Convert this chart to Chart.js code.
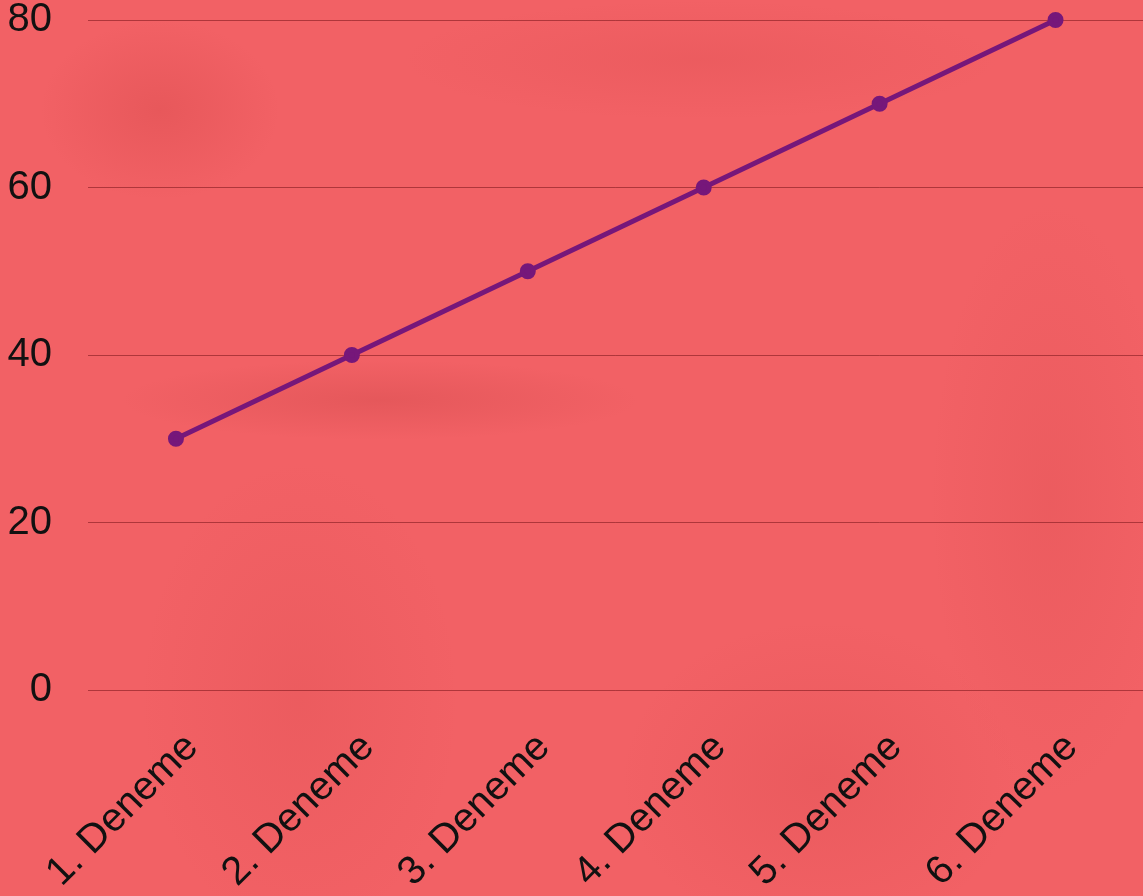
<!DOCTYPE html>
<html>
<head>
<meta charset="utf-8">
<script src="https://cdn.jsdelivr.net/npm/chart.js@4/dist/chart.umd.min.js"></script>
<style>
  html, body { margin: 0; padding: 0; overflow: hidden; }
  body {
    width: 1143px;
    height: 896px;
    position: relative;
    background-color: #f26165;
    background-image:
      radial-gradient(ellipse 120px 90px at 160px 110px, rgba(200,60,60,0.25), transparent),
      radial-gradient(ellipse 260px 40px at 380px 400px, rgba(190,60,60,0.25), transparent),
      radial-gradient(ellipse 200px 160px at 820px 780px, rgba(200,60,60,0.18), transparent),
      radial-gradient(ellipse 160px 240px at 300px 700px, rgba(200,60,60,0.15), transparent),
      radial-gradient(ellipse 300px 60px at 700px 60px, rgba(200,60,60,0.15), transparent),
      radial-gradient(ellipse 120px 300px at 1050px 500px, rgba(200,60,60,0.15), transparent);
  }
  #wrap { position: absolute; left: 0; top: 0; width: 1154px; height: 896px; }
</style>
</head>
<body>
<div id="wrap"><canvas id="lineChart"></canvas></div>
<script>
const labels = ['1. Deneme', '2. Deneme', '3. Deneme', '4. Deneme', '5. Deneme', '6. Deneme'];
const values = [30, 40, 50, 60, 70, 80];
const yTicks = [0, 20, 40, 60, 80];

const lineColor = '#76177a';
const gridColor = 'rgba(120, 20, 25, 0.55)';
const labelFont = { family: 'Liberation Sans, Arial, sans-serif', size: 40 };

const ctx = document.getElementById('lineChart');

new Chart(ctx, {
  type: 'line',
  data: {
    labels: labels,
    datasets: [{
      data: values,
      borderColor: lineColor,
      backgroundColor: lineColor,
      borderWidth: 5,
      pointRadius: 5.5,
      pointHoverRadius: 5.5,
      tension: 0,
      fill: false,
      clip: false
    }]
  },
  options: {
    responsive: true,
    maintainAspectRatio: false,
    animation: false,
    layout: {
      padding: { top: 20, right: 0, bottom: 0, left: 0 }
    },
    plugins: {
      legend: { display: false },
      tooltip: { enabled: false }
    },
    scales: {
      x: {
        offset: true,
        grid: { display: false, drawTicks: false },
        border: { display: false },
        ticks: {
          color: '#111',
          font: labelFont,
          minRotation: 45,
          maxRotation: 45,
          autoSkip: false,
          padding: 34,
          labelOffset: 16
        },
        afterFit: (axis) => {
          axis.height = 206;
          axis.paddingLeft = 0;
          axis.paddingRight = 0;
        }
      },
      y: {
        min: 0,
        max: 80,
        afterBuildTicks: (axis) => {
          axis.ticks = yTicks.map(v => ({ value: v }));
        },
        grid: { color: gridColor, lineWidth: 1, drawTicks: false },
        border: { display: false },
        ticks: {
          color: '#111',
          font: labelFont,
          padding: 36
        },
        afterFit: (axis) => {
          axis.width = 88;
          axis.paddingTop = 0;
          axis.paddingBottom = 0;
        }
      }
    }
  }
});
</script>
</body>
</html>
